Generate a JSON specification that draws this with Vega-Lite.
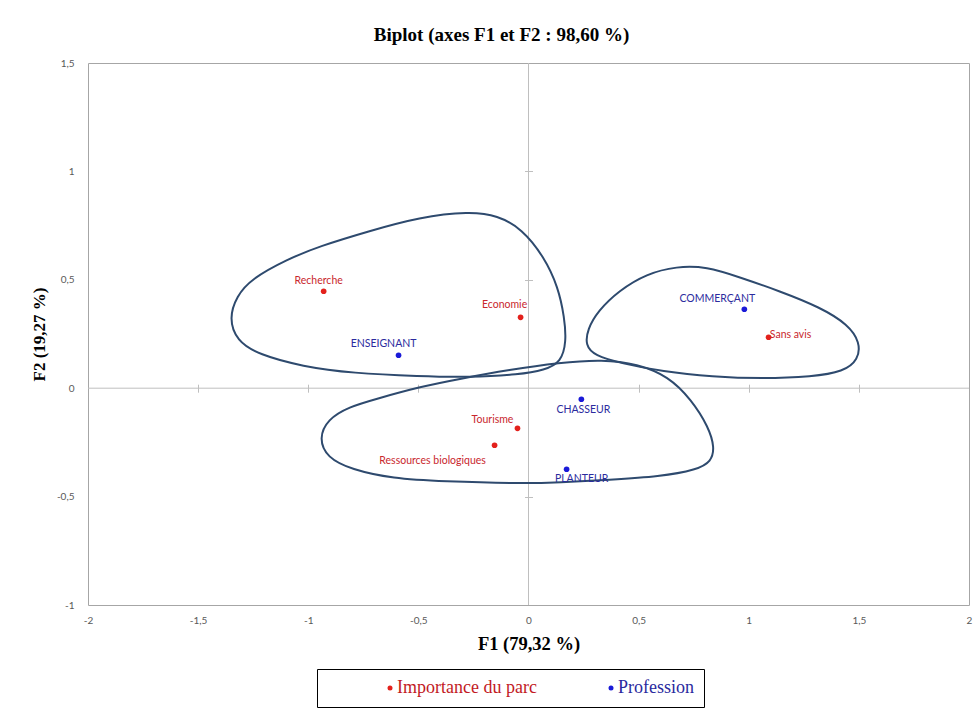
{
  "$schema": "https://vega.github.io/schema/vega-lite/v6.json",
  "width": 881,
  "height": 542,
  "autosize": {"type": "none"},
  "padding": {"left": 88, "top": 63, "right": 10, "bottom": 107},
  "background": "white",
  "title": {"text": "Biplot (axes F1 et F2 : 98,60 %)", "font": "Liberation Serif", "fontSize": 19, "fontWeight": "bold", "color": "#000000", "anchor": "middle", "dx": -27, "offset": 13},
  "config": {"view": {"stroke": "#a6a6a6", "strokeWidth": 1}},
  "datasets": {
    "pts": [
      {"label": "Recherche", "groupe": "Importance du parc", "F1": -0.93, "F2": 0.447},
      {"label": "Economie", "groupe": "Importance du parc", "F1": -0.036, "F2": 0.327},
      {"label": "Sans avis", "groupe": "Importance du parc", "F1": 1.09, "F2": 0.235},
      {"label": "Tourisme", "groupe": "Importance du parc", "F1": -0.05, "F2": -0.185},
      {"label": "Ressources biologiques", "groupe": "Importance du parc", "F1": -0.154, "F2": -0.263},
      {"label": "ENSEIGNANT", "groupe": "Profession", "F1": -0.59, "F2": 0.152},
      {"label": "COMMERÇANT", "groupe": "Profession", "F1": 0.98, "F2": 0.364},
      {"label": "CHASSEUR", "groupe": "Profession", "F1": 0.24, "F2": -0.051},
      {"label": "PLANTEUR", "groupe": "Profession", "F1": 0.173, "F2": -0.374}
    ],
    "curves": [
      {"forme": "A", "i": 1, "x": -1.36, "y": 0.323},
      {"forme": "A", "i": 2, "x": -1.325, "y": 0.425},
      {"forme": "A", "i": 3, "x": -1.26, "y": 0.503},
      {"forme": "A", "i": 4, "x": -1.099, "y": 0.593},
      {"forme": "A", "i": 5, "x": -0.949, "y": 0.655},
      {"forme": "A", "i": 6, "x": -0.722, "y": 0.725},
      {"forme": "A", "i": 7, "x": -0.495, "y": 0.789},
      {"forme": "A", "i": 8, "x": -0.268, "y": 0.815},
      {"forme": "A", "i": 9, "x": -0.14, "y": 0.797},
      {"forme": "A", "i": 10, "x": -0.03, "y": 0.735},
      {"forme": "A", "i": 11, "x": 0.07, "y": 0.607},
      {"forme": "A", "i": 12, "x": 0.135, "y": 0.466},
      {"forme": "A", "i": 13, "x": 0.163, "y": 0.327},
      {"forme": "A", "i": 14, "x": 0.172, "y": 0.215},
      {"forme": "A", "i": 15, "x": 0.148, "y": 0.12},
      {"forme": "A", "i": 16, "x": 0.073, "y": 0.084},
      {"forme": "A", "i": 17, "x": -0.041, "y": 0.063},
      {"forme": "A", "i": 18, "x": -0.268, "y": 0.05},
      {"forme": "A", "i": 19, "x": -0.495, "y": 0.055},
      {"forme": "A", "i": 20, "x": -0.799, "y": 0.069},
      {"forme": "A", "i": 21, "x": -1.026, "y": 0.1},
      {"forme": "A", "i": 22, "x": -1.225, "y": 0.155},
      {"forme": "A", "i": 23, "x": -1.325, "y": 0.218},
      {"forme": "B", "i": 1, "x": 0.258, "y": 0.198},
      {"forme": "B", "i": 2, "x": 0.268, "y": 0.272},
      {"forme": "B", "i": 3, "x": 0.315, "y": 0.356},
      {"forme": "B", "i": 4, "x": 0.41, "y": 0.45},
      {"forme": "B", "i": 5, "x": 0.536, "y": 0.528},
      {"forme": "B", "i": 6, "x": 0.672, "y": 0.562},
      {"forme": "B", "i": 7, "x": 0.808, "y": 0.561},
      {"forme": "B", "i": 8, "x": 0.958, "y": 0.512},
      {"forme": "B", "i": 9, "x": 1.14, "y": 0.448},
      {"forme": "B", "i": 10, "x": 1.325, "y": 0.373},
      {"forme": "B", "i": 11, "x": 1.452, "y": 0.293},
      {"forme": "B", "i": 12, "x": 1.505, "y": 0.212},
      {"forme": "B", "i": 13, "x": 1.498, "y": 0.132},
      {"forme": "B", "i": 14, "x": 1.43, "y": 0.076},
      {"forme": "B", "i": 15, "x": 1.289, "y": 0.053},
      {"forme": "B", "i": 16, "x": 1.062, "y": 0.044},
      {"forme": "B", "i": 17, "x": 0.835, "y": 0.053},
      {"forme": "B", "i": 18, "x": 0.608, "y": 0.077},
      {"forme": "B", "i": 19, "x": 0.42, "y": 0.115},
      {"forme": "B", "i": 20, "x": 0.3, "y": 0.15},
      {"forme": "C", "i": 1, "x": -0.952, "y": -0.231},
      {"forme": "C", "i": 2, "x": -0.912, "y": -0.143},
      {"forme": "C", "i": 3, "x": -0.816, "y": -0.086},
      {"forme": "C", "i": 4, "x": -0.69, "y": -0.049},
      {"forme": "C", "i": 5, "x": -0.495, "y": 0.006},
      {"forme": "C", "i": 6, "x": -0.313, "y": 0.043},
      {"forme": "C", "i": 7, "x": -0.086, "y": 0.085},
      {"forme": "C", "i": 8, "x": 0.141, "y": 0.118},
      {"forme": "C", "i": 9, "x": 0.336, "y": 0.132},
      {"forme": "C", "i": 10, "x": 0.495, "y": 0.112},
      {"forme": "C", "i": 11, "x": 0.635, "y": 0.055},
      {"forme": "C", "i": 12, "x": 0.74, "y": -0.053},
      {"forme": "C", "i": 13, "x": 0.818, "y": -0.18},
      {"forme": "C", "i": 14, "x": 0.845, "y": -0.274},
      {"forme": "C", "i": 15, "x": 0.83, "y": -0.338},
      {"forme": "C", "i": 16, "x": 0.766, "y": -0.376},
      {"forme": "C", "i": 17, "x": 0.595, "y": -0.408},
      {"forme": "C", "i": 18, "x": 0.368, "y": -0.422},
      {"forme": "C", "i": 19, "x": 0.141, "y": -0.435},
      {"forme": "C", "i": 20, "x": -0.041, "y": -0.44},
      {"forme": "C", "i": 21, "x": -0.39, "y": -0.43},
      {"forme": "C", "i": 22, "x": -0.617, "y": -0.417},
      {"forme": "C", "i": 23, "x": -0.805, "y": -0.375},
      {"forme": "C", "i": 24, "x": -0.915, "y": -0.32}
    ]
  },
  "layer": [
    {
      "data": {"values": [{"zero": 0}]},
      "mark": {"type": "rule", "color": "#bfbfbf", "strokeWidth": 1},
      "encoding": {
        "x": {"field": "zero", "type": "quantitative", "scale": {"domain": [-2, 2], "nice": false}, "axis": null}
      }
    },
    {
      "data": {"values": [{"zero": 0}]},
      "mark": {"type": "rule", "color": "#bfbfbf", "strokeWidth": 1},
      "encoding": {
        "y": {"field": "zero", "type": "quantitative", "scale": {"domain": [-1, 1.5], "nice": false}, "axis": null}
      }
    },
    {
      "data": {"name": "pts"},
      "mark": {"type": "point", "opacity": 0},
      "encoding": {
        "x": {"field": "F1", "type": "quantitative", "scale": {"domain": [-2, 2], "nice": false},
          "axis": {"orient": "bottom", "offset": -220.8, "values": [-1.5, -1, -0.5, 0.5, 1, 1.5], "domain": false, "labels": false, "grid": false, "ticks": true, "tickSize": 8, "tickColor": "#bfbfbf", "title": null}},
        "y": {"field": "F2", "type": "quantitative", "scale": {"domain": [-1, 1.5], "nice": false},
          "axis": {"orient": "left", "offset": -444.5, "values": [-0.5, 0.5, 1], "domain": false, "labels": false, "grid": false, "ticks": true, "tickSize": 8, "tickColor": "#bfbfbf", "title": null}}
      }
    },
    {
      "data": {"name": "curves"},
      "mark": {"type": "line", "interpolate": "basis-closed", "color": "#2e4a6e", "strokeWidth": 2},
      "encoding": {
        "x": {"field": "x", "type": "quantitative", "scale": {"domain": [-2, 2], "nice": false},
          "axis": {"orient": "bottom", "values": [-2, -1.5, -1, -0.5, 0, 0.5, 1, 1.5, 2], "labelExpr": "replace('' + datum.value, '.', ',')", "grid": false, "ticks": false, "domain": false, "labelFlush": false, "labelOverlap": false, "labelPadding": 10, "labelFont": "Lato", "labelFontSize": 10, "labelColor": "#595959", "title": "F1 (79,32 %)", "titleFont": "Liberation Serif", "titleFontSize": 18.5, "titleFontWeight": "bold", "titleColor": "#000000", "titlePadding": 9}},
        "y": {"field": "y", "type": "quantitative", "scale": {"domain": [-1, 1.5], "nice": false},
          "axis": {"orient": "left", "values": [-1, -0.5, 0, 0.5, 1, 1.5], "labelExpr": "replace('' + datum.value, '.', ',')", "grid": false, "ticks": false, "domain": false, "labelFlush": false, "labelOverlap": false, "labelPadding": 14, "labelFont": "Lato", "labelFontSize": 10, "labelColor": "#595959", "title": "F2 (19,27 %)", "titleFont": "Liberation Serif", "titleFontSize": 17, "titleFontWeight": "bold", "titleColor": "#000000", "titlePadding": 8}},
        "detail": {"field": "forme", "type": "nominal"},
        "order": {"field": "i", "type": "quantitative"}
      }
    },
    {
      "data": {"name": "pts"},
      "mark": {"type": "point", "filled": true, "size": 32, "opacity": 1},
      "encoding": {
        "x": {"field": "F1", "type": "quantitative", "scale": {"domain": [-2, 2], "nice": false}, "axis": null},
        "y": {"field": "F2", "type": "quantitative", "scale": {"domain": [-1, 1.5], "nice": false}, "axis": null},
        "color": {"field": "groupe", "type": "nominal",
          "scale": {"domain": ["Importance du parc", "Profession"], "range": ["#e3211c", "#1a1ad8"]},
          "legend": {"title": null, "orient": "none", "legendX": 229, "legendY": 606, "direction": "horizontal", "gridAlign": "all", "strokeColor": "#000000", "fillColor": "#ffffff", "padding": 10, "symbolType": "circle", "symbolSize": 25, "symbolOffset": 54, "labelOffset": -2, "labelFont": "Liberation Serif", "labelFontSize": 18, "labelColor": {"expr": "datum.value == 'Profession' ? '#2a2a9e' : '#c21a1f'"}, "columnPadding": 11}}
      }
    },
    {
      "data": {"name": "pts"},
      "mark": {"type": "text", "font": "Lato", "fontSize": 10.5, "align": "center", "baseline": "middle",
        "fill": {"expr": "datum.groupe == 'Profession' ? '#2b2b9e' : '#c9272d'"},
        "dx": {"expr": "datum.label == 'Recherche' ? -5 : datum.label == 'Economie' ? -16 : datum.label == 'ENSEIGNANT' ? -15 : datum.label == 'COMMERÇANT' ? -27 : datum.label == 'Sans avis' ? 22 : datum.label == 'CHASSEUR' ? 2 : datum.label == 'Tourisme' ? -25 : datum.label == 'Ressources biologiques' ? -62 : 15"},
        "dy": {"expr": "datum.label == 'Recherche' ? -10 : datum.label == 'Economie' ? -12 : datum.label == 'ENSEIGNANT' ? -11 : datum.label == 'COMMERÇANT' ? -10 : datum.label == 'Sans avis' ? -2 : datum.label == 'CHASSEUR' ? 11 : datum.label == 'Tourisme' ? -8 : datum.label == 'Ressources biologiques' ? 16 : 10"}},
      "encoding": {
        "x": {"field": "F1", "type": "quantitative", "scale": {"domain": [-2, 2], "nice": false}, "axis": null},
        "y": {"field": "F2", "type": "quantitative", "scale": {"domain": [-1, 1.5], "nice": false}, "axis": null},
        "text": {"field": "label", "type": "nominal"}
      }
    }
  ],
  "resolve": {"axis": {"x": "independent", "y": "independent"}}
}
